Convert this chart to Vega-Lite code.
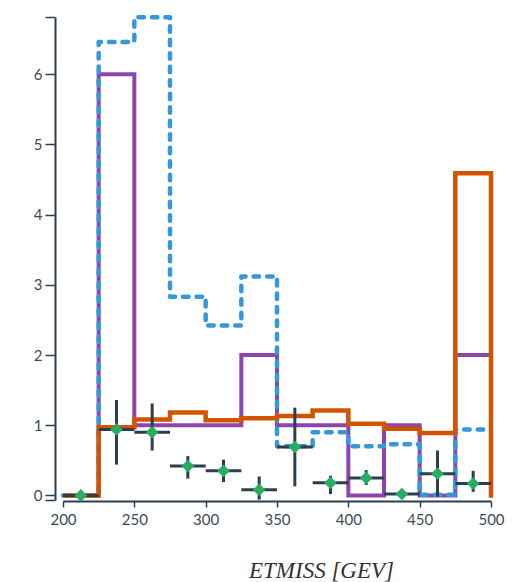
{
  "$schema": "https://vega.github.io/schema/vega-lite/v6.json",
  "autosize": {"type": "none"},
  "padding": {"left": 63, "top": 17, "right": 27, "bottom": 82},
  "width": 428,
  "height": 483,
  "background": "white",
  "config": {
    "view": {"stroke": null},
    "axis": {
      "grid": false,
      "labelFont": "Lato",
      "labelFontSize": 15,
      "labelColor": "#3b4a5a",
      "domainColor": "#2c3e50",
      "tickColor": "#2c3e50",
      "domainWidth": 2,
      "tickWidth": 1.5,
      "labelOverlap": false,
      "labelBound": false,
      "labelFlush": false
    }
  },
  "datasets": {
    "hist": [
      {"series": "orange", "lo": 200, "hi": 225, "value": 0},
      {"series": "orange", "lo": 225, "hi": 250, "value": 0.97},
      {"series": "orange", "lo": 250, "hi": 275, "value": 1.08},
      {"series": "orange", "lo": 275, "hi": 300, "value": 1.18},
      {"series": "orange", "lo": 300, "hi": 325, "value": 1.07},
      {"series": "orange", "lo": 325, "hi": 350, "value": 1.1},
      {"series": "orange", "lo": 350, "hi": 375, "value": 1.13},
      {"series": "orange", "lo": 375, "hi": 400, "value": 1.21},
      {"series": "orange", "lo": 400, "hi": 425, "value": 1.02},
      {"series": "orange", "lo": 425, "hi": 450, "value": 0.95},
      {"series": "orange", "lo": 450, "hi": 475, "value": 0.89},
      {"series": "orange", "lo": 475, "hi": 500, "value": 4.59},
      {"series": "purple", "lo": 200, "hi": 225, "value": 0},
      {"series": "purple", "lo": 225, "hi": 250, "value": 6.0},
      {"series": "purple", "lo": 250, "hi": 275, "value": 1.0},
      {"series": "purple", "lo": 275, "hi": 300, "value": 1.0},
      {"series": "purple", "lo": 300, "hi": 325, "value": 1.0},
      {"series": "purple", "lo": 325, "hi": 350, "value": 2.0},
      {"series": "purple", "lo": 350, "hi": 375, "value": 1.0},
      {"series": "purple", "lo": 375, "hi": 400, "value": 1.0},
      {"series": "purple", "lo": 400, "hi": 425, "value": 0},
      {"series": "purple", "lo": 425, "hi": 450, "value": 1.0},
      {"series": "purple", "lo": 450, "hi": 475, "value": 0},
      {"series": "purple", "lo": 475, "hi": 500, "value": 2.0},
      {"series": "blue", "lo": 200, "hi": 225, "value": 0},
      {"series": "blue", "lo": 225, "hi": 250, "value": 6.46},
      {"series": "blue", "lo": 250, "hi": 275, "value": 6.81},
      {"series": "blue", "lo": 275, "hi": 300, "value": 2.83},
      {"series": "blue", "lo": 300, "hi": 325, "value": 2.42},
      {"series": "blue", "lo": 325, "hi": 350, "value": 3.12},
      {"series": "blue", "lo": 350, "hi": 375, "value": 0.7},
      {"series": "blue", "lo": 375, "hi": 400, "value": 0.9},
      {"series": "blue", "lo": 400, "hi": 425, "value": 0.7},
      {"series": "blue", "lo": 425, "hi": 450, "value": 0.73},
      {"series": "blue", "lo": 450, "hi": 475, "value": 0.01},
      {"series": "blue", "lo": 475, "hi": 500, "value": 0.94}
    ],
    "points": [
      {"center": 212.5, "lo": 200, "hi": 225, "y": 0, "ylo": 0, "yhi": 0},
      {"center": 237.5, "lo": 225, "hi": 250, "y": 0.94, "ylo": 0.44, "yhi": 1.36},
      {"center": 262.5, "lo": 250, "hi": 275, "y": 0.9, "ylo": 0.64, "yhi": 1.31},
      {"center": 287.5, "lo": 275, "hi": 300, "y": 0.42, "ylo": 0.24, "yhi": 0.56},
      {"center": 312.5, "lo": 300, "hi": 325, "y": 0.35, "ylo": 0.19, "yhi": 0.51},
      {"center": 337.5, "lo": 325, "hi": 350, "y": 0.08, "ylo": -0.06, "yhi": 0.27},
      {"center": 362.5, "lo": 350, "hi": 375, "y": 0.69, "ylo": 0.13, "yhi": 1.25},
      {"center": 387.5, "lo": 375, "hi": 400, "y": 0.18, "ylo": 0.02, "yhi": 0.28},
      {"center": 412.5, "lo": 400, "hi": 425, "y": 0.25, "ylo": 0.15, "yhi": 0.36},
      {"center": 437.5, "lo": 425, "hi": 450, "y": 0.02, "ylo": -0.04, "yhi": 0.06},
      {"center": 462.5, "lo": 450, "hi": 475, "y": 0.31, "ylo": -0.02, "yhi": 0.64},
      {"center": 487.5, "lo": 475, "hi": 500, "y": 0.17, "ylo": 0.05, "yhi": 0.35}
    ]
  },
  "encoding": {
    "x": {
      "type": "quantitative",
      "scale": {"domain": [200, 500], "nice": false, "zero": false},
      "axis": {
        "values": [200, 250, 300, 350, 400, 450, 500],
        "tickSize": 6,
        "labelPadding": 5,
        "offset": 1,
        "title": "ETMISS [GEV]",
        "titleFont": "Liberation Serif",
        "titleFontStyle": "italic",
        "titleFontWeight": "normal",
        "titleFontSize": 23,
        "titleColor": "#333333",
        "titleAnchor": "middle",
        "titleAlign": "center",
        "titleBaseline": "alphabetic",
        "titleX": 258,
        "titleY": 76
      }
    },
    "y": {
      "type": "quantitative",
      "scale": {"domain": [-0.065, 6.815], "nice": false, "zero": false},
      "axis": {
        "values": [-0.065, 0, 1, 2, 3, 4, 5, 6, 6.815],
        "labelExpr": "datum.value < -0.01 || datum.value > 6.5 ? '' : datum.label",
        "tickSize": 10,
        "labelPadding": 3,
        "offset": 8,
        "title": null
      }
    }
  },
  "layer": [
    {
      "data": {"name": "hist"},
      "transform": [
        {"filter": "datum.series == 'purple'"},
        {"fold": ["lo", "hi"], "as": ["edge", "xe"]}
      ],
      "mark": {"type": "line", "stroke": "#8e44ad", "strokeWidth": 4, "strokeJoin": "miter"},
      "encoding": {
        "x": {"field": "xe", "type": "quantitative"},
        "y": {"field": "value", "type": "quantitative"},
        "order": [
          {"field": "lo", "type": "quantitative"},
          {"field": "edge", "sort": "descending"}
        ]
      }
    },
    {
      "data": {"name": "hist"},
      "transform": [
        {"filter": "datum.series == 'blue'"},
        {"fold": ["lo", "hi"], "as": ["edge", "xe"]}
      ],
      "mark": {"type": "line", "stroke": "#3498db", "strokeWidth": 4.5, "strokeDash": [5.5, 8], "strokeCap": "round", "strokeJoin": "round"},
      "encoding": {
        "x": {"field": "xe", "type": "quantitative"},
        "y": {"field": "value", "type": "quantitative"},
        "order": [
          {"field": "lo", "type": "quantitative"},
          {"field": "edge", "sort": "descending"}
        ]
      }
    },
    {
      "data": {"name": "hist"},
      "transform": [
        {"filter": "datum.series == 'orange'"},
        {"fold": ["lo", "hi"], "as": ["edge", "xe"]}
      ],
      "mark": {"type": "line", "stroke": "#d35400", "strokeWidth": 4.5, "strokeJoin": "miter"},
      "encoding": {
        "x": {"field": "xe", "type": "quantitative"},
        "y": {"field": "value", "type": "quantitative"},
        "order": [
          {"field": "lo", "type": "quantitative"},
          {"field": "edge", "sort": "descending"}
        ]
      }
    },
    {
      "data": {"name": "hist"},
      "transform": [
        {"filter": "datum.series == 'orange' && datum.hi == 500"}
      ],
      "mark": {"type": "rule", "stroke": "#d35400", "strokeWidth": 4.5, "strokeCap": "square"},
      "encoding": {
        "x": {"field": "hi", "type": "quantitative"},
        "y": {"field": "value", "type": "quantitative"},
        "y2": {"datum": 0}
      }
    },
    {
      "data": {"name": "points"},
      "mark": {"type": "rule", "stroke": "#2c3e50", "strokeWidth": 3},
      "encoding": {
        "x": {"field": "lo", "type": "quantitative"},
        "x2": {"field": "hi"},
        "y": {"field": "y", "type": "quantitative"}
      }
    },
    {
      "data": {"name": "points"},
      "mark": {"type": "rule", "stroke": "#2c3e50", "strokeWidth": 3},
      "encoding": {
        "x": {"field": "center", "type": "quantitative"},
        "y": {"field": "ylo", "type": "quantitative"},
        "y2": {"field": "yhi"}
      }
    },
    {
      "data": {"name": "points"},
      "mark": {"type": "point", "shape": "diamond", "filled": true, "fill": "#27ae60", "opacity": 1, "size": 160, "strokeWidth": 0},
      "encoding": {
        "x": {"field": "center", "type": "quantitative"},
        "y": {"field": "y", "type": "quantitative"}
      }
    }
  ]
}
